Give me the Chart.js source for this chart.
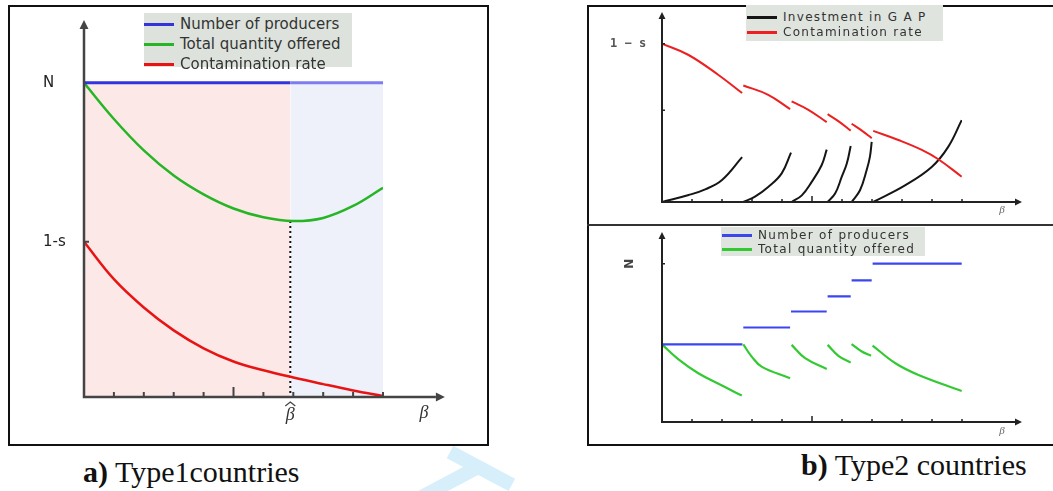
<!DOCTYPE html>
<html>
<head>
<meta charset="utf-8">
<script src="https://cdn.jsdelivr.net/npm/chart.js@4.4.1/dist/chart.umd.min.js"></script>
<style>
  body { margin: 0; background: #fff; }
  #page { position: relative; width: 1053px; height: 491px; overflow: hidden; font-family: "DejaVu Sans", sans-serif; }
  .frame { position: absolute; border: 2px solid #111; box-sizing: border-box; }
  canvas { position: absolute; }
  .legend { position: absolute; background: #dde3dc; color: #333; }
  .legend .row { position: absolute; left: 0; right: 0; white-space: nowrap; }
  .legend .swatch { position: absolute; height: 3px; }
  .legend .text { position: absolute; }
  .caption { position: absolute; font-family: "Liberation Serif", serif; font-size: 30px; line-height: 30px; color: #111; white-space: nowrap; }
  .wm { position: absolute; height: 14px; background: #d6effb; transform-origin: 0 50%; }
</style>
</head>
<body>
<div id="page">
  <div class="wm" style="left:480px; top:459px; width:88px; transform: rotate(152deg);"></div>
  <div class="wm" style="left:450px; top:445px; width:70px; transform: rotate(28deg);"></div>

  <div class="frame" style="left:8px; top:5px; width:481px; height:441px;"></div>
  <div class="frame" style="left:587px; top:5px; width:480px; height:441px;"></div>
  <div style="position:absolute; left:587px; top:224px; width:470px; height:2px; background:#333;"></div>

  <canvas id="left" width="476" height="436" style="left:10px; top:7px;"></canvas>
  <canvas id="rightTop" width="464" height="217" style="left:589px; top:7px;"></canvas>
  <canvas id="rightBottom" width="464" height="217" style="left:589px; top:227px;"></canvas>

  <div class="legend" id="legLeft" style="left:144px; top:13px; width:208px; height:54px;"></div>
  <div class="legend" id="legTop" style="left:746px; top:5px; width:197px; height:36px; background:#dfe4df;"></div>
  <div class="legend" id="legBottom" style="left:721px; top:227px; width:204px; height:29px; background:#dfe4df;"></div>

  <div class="caption" style="left:83px; top:457px;"><b>a)</b> Type1countries</div>
  <div class="caption" style="left:801px; top:450px;"><b>b)</b> Type2 countries</div>
</div>
<script>
// ---- a) Type 1 countries ----
const leftBeta = [0, 1, 2, 3, 4, 5, 6, 7, 8, 9, 10];
const leftQuantity = [10, 8.85, 7.85, 7.05, 6.45, 6.0, 5.72, 5.6, 5.7, 6.08, 6.66];
const leftContamination = [4.94, 3.75, 2.85, 2.12, 1.55, 1.13, 0.85, 0.62, 0.41, 0.21, 0.03];
const leftProducersBeta = [0, 6.9, 10];
const leftProducers = [10, 10, 10];
const betaHat = 6.9;
const quantityAtHat = 5.6;
const leftSeries = ['Number of producers', 'Total quantity offered', 'Contamination rate'];

// ---- b) Type 2 countries, top: one piece per GAP regime ----
const gapInvestment = [
    [[0, 0], [0.89, 0.44], [1.44, 0.8], [2.0, 1.39], [2.67, 2.83]],
    [[2.71, 0], [3.1, 0.34], [3.54, 0.95], [3.99, 1.81], [4.3, 3.12]],
    [[4.32, 0], [4.66, 0.42], [4.99, 1.27], [5.32, 2.32], [5.49, 3.31]],
    [[5.52, 0], [5.77, 0.53], [5.99, 1.58], [6.16, 2.43], [6.29, 3.54]],
    [[6.32, 0], [6.6, 0.74], [6.82, 2.0], [6.93, 2.85], [6.99, 3.8]],
    [[7.04, 0], [8.1, 1.05], [8.99, 2.21], [9.54, 3.48], [9.99, 5.17]]
];
const gapContamination = [
    [[0, 10], [0.87, 9.3], [1.87, 8.04], [2.67, 6.88]],
    [[2.71, 7.36], [3.54, 6.77], [4.27, 5.87]],
    [[4.32, 6.35], [4.88, 5.82], [5.49, 5.04]],
    [[5.52, 5.55], [5.9, 5.08], [6.29, 4.51]],
    [[6.32, 4.94], [6.65, 4.52], [6.99, 4.03]],
    [[7.04, 4.49], [7.9, 3.9], [8.66, 3.29], [9.21, 2.7], [9.99, 1.6]]
];
const topSeries = ['Investment in G A P', 'Contamination rate'];

// ---- b) Type 2 countries, bottom ----
const stepBounds = [[0, 2.68], [2.71, 4.27], [4.3, 5.49], [5.52, 6.29], [6.32, 6.99], [7.02, 9.99]];
const stepProducers = [4.9, 5.97, 6.98, 7.93, 8.94, 10];
const gapQuantity = [
    [[0, 4.9], [0.55, 3.95], [1.21, 3.08], [2.0, 2.3], [2.66, 1.67]],
    [[2.71, 4.9], [2.99, 4.13], [3.32, 3.5], [4.27, 2.76]],
    [[4.32, 4.87], [4.77, 4.03], [5.49, 3.35]],
    [[5.52, 4.87], [5.88, 4.18], [6.29, 3.75]],
    [[6.32, 4.92], [6.66, 4.45], [6.97, 4.18]],
    [[7.02, 4.83], [7.78, 3.71], [8.55, 2.97], [9.99, 1.96]]
];
const bottomSeries = ['Number of producers', 'Total quantity offered'];

const xTickValues = [1, 2, 3, 4, 5, 6, 7, 8, 9, 10];

// pieces -> one dataset with null gaps between them
function joinPieces(pieces) {
    const out = [];
    pieces.forEach(p => {
        p.forEach(([x, y]) => out.push({ x, y }));
        out.push({ x: p[p.length - 1][0] + 0.005, y: null });
    });
    return out;
}

function steps(bounds, levels) {
    const out = [];
    bounds.forEach(([a, b], i) => {
        out.push({ x: a, y: levels[i] }, { x: b, y: levels[i] }, { x: b + 0.005, y: null });
    });
    return out;
}

const zip = (xs, ys) => xs.map((x, i) => ({ x, y: ys[i] }));

const axisPlugin = {
    id: 'axisArrows',
    afterDatasetsDraw(chart, args, o) {
        const { ctx, scales: { x, y } } = chart;
        const x0 = x.getPixelForValue(0), y0 = y.getPixelForValue(0);
        const xe = x.getPixelForValue(o.xEnd), ye = y.getPixelForValue(o.yEnd);
        const h = o.head;
        ctx.save();
        ctx.strokeStyle = o.color;
        ctx.fillStyle = o.color;
        ctx.lineWidth = o.width;
        ctx.beginPath();
        ctx.moveTo(x0, y0 + o.width / 2); ctx.lineTo(x0, ye + h);
        ctx.moveTo(x0 - o.width / 2, y0); ctx.lineTo(xe - h, y0);
        ctx.stroke();
        ctx.beginPath();
        ctx.moveTo(x0, ye); ctx.lineTo(x0 - h * 0.5, ye + h); ctx.lineTo(x0 + h * 0.5, ye + h); ctx.closePath();
        ctx.moveTo(xe, y0); ctx.lineTo(xe - h, y0 - h * 0.5); ctx.lineTo(xe - h, y0 + h * 0.5); ctx.closePath();
        ctx.fill();

        ctx.lineWidth = o.tickWidth;
        ctx.beginPath();
        o.xTicks.forEach(v => {
            const px = x.getPixelForValue(v);
            ctx.moveTo(px, y0); ctx.lineTo(px, y0 - (v === o.tallTick ? o.tick * 2 : o.tick));
        });
        o.yTicks.forEach(v => {
            const py = y.getPixelForValue(v);
            ctx.moveTo(x0, py); ctx.lineTo(x0 + o.tick, py);
        });
        ctx.stroke();

        o.labels.forEach(l => {
            const px = l.x === undefined ? x0 + l.dx : x.getPixelForValue(l.x);
            const py = l.y === undefined ? y0 + l.dy : y.getPixelForValue(l.y);
            ctx.save();
            ctx.translate(px, py);
            if (l.rotate) ctx.rotate(l.rotate);
            ctx.font = l.font;
            ctx.fillStyle = l.color || o.color;
            ctx.textAlign = l.align || 'center';
            ctx.textBaseline = 'middle';
            ctx.fillText(l.text, 0, 0);
            if (l.hat) {
                ctx.lineWidth = 1.2;
                ctx.beginPath();
                ctx.moveTo(-5, -9); ctx.lineTo(0, -13); ctx.lineTo(5, -9);
                ctx.stroke();
            }
            ctx.restore();
        });
        ctx.restore();
    }
};

function baseOptions(padding, axes) {
    return {
        responsive: false,
        animation: false,
        devicePixelRatio: 1,
        layout: { padding },
        scales: {
            x: { type: 'linear', min: 0, max: 10, display: false },
            y: { type: 'linear', min: 0, max: 12, display: false }
        },
        elements: { point: { radius: 0 }, line: { tension: 0.4 } },
        plugins: { legend: { display: false }, tooltip: { enabled: false }, axisArrows: axes }
    };
}

// a) left panel
new Chart(document.getElementById('left'), {
    type: 'line',
    data: {
        datasets: [
            {
                label: leftSeries[0], data: zip(leftProducersBeta, leftProducers), borderWidth: 3, tension: 0,
                segment: { borderColor: c => c.p0.parsed.x >= betaHat ? '#7d7df0' : '#3434dc' }
            },
            { label: leftSeries[1], data: zip(leftBeta, leftQuantity), borderColor: '#25b525', borderWidth: 2.5 },
            { label: leftSeries[2], data: zip(leftBeta, leftContamination), borderColor: '#e81414', borderWidth: 2.5 },
            { data: [{ x: betaHat, y: quantityAtHat }, { x: betaHat, y: 0 }], borderColor: '#111', borderWidth: 2, borderDash: [2, 3], tension: 0 },
            { data: [{ x: 0, y: 10 }, { x: betaHat, y: 10 }], borderWidth: 0, fill: 'origin', backgroundColor: '#fde8e8', tension: 0 },
            { data: [{ x: betaHat, y: 10 }, { x: 10, y: 10 }], borderWidth: 0, fill: 'origin', backgroundColor: '#eef1fa', tension: 0 }
        ]
    },
    options: baseOptions({ left: 74, right: 103, top: 13, bottom: 46 }, {
        xEnd: 12.07, yEnd: 12, head: 9, color: '#444', width: 2.5, tickWidth: 2, tick: 5, tallTick: 5,
        xTicks: xTickValues, yTicks: [4.94],
        labels: [
            { text: 'N', y: 10, dx: -41, align: 'left', font: '15px "DejaVu Sans"', color: '#222' },
            { text: '1-s', y: 4.94, dx: -41, align: 'left', font: '15px "DejaVu Sans"', color: '#222' },
            { text: 'β', x: betaHat, dy: 18, font: 'italic 18px "Liberation Serif"', color: '#333', hat: true },
            { text: 'β', x: 11.37, dy: 16, font: 'italic 18px "Liberation Serif"', color: '#333' }
        ]
    }),
    plugins: [axisPlugin]
});

// b) top: investment and contamination
new Chart(document.getElementById('rightTop'), {
    type: 'line',
    data: {
        datasets: [
            { label: topSeries[1], data: joinPieces(gapContamination), borderColor: '#ec2020', borderWidth: 2 },
            { label: topSeries[0], data: joinPieces(gapInvestment), borderColor: '#151515', borderWidth: 2 }
        ]
    },
    options: baseOptions({ left: 73, right: 91, top: 5, bottom: 22 }, {
        xEnd: 12, yEnd: 12, head: 7, color: '#222', width: 2, tickWidth: 1.5, tick: 3, tallTick: 5,
        xTicks: xTickValues, yTicks: [10, 5.8],
        labels: [
            { text: '1 − s', y: 10, dx: -52, align: 'left', font: 'bold 12px "DejaVu Sans Mono"', color: '#555' },
            { text: 'β', x: 11.33, dy: 8, font: 'italic 11px "Liberation Serif"', color: '#666' }
        ]
    }),
    plugins: [axisPlugin]
});

// b) bottom: producers and quantity
new Chart(document.getElementById('rightBottom'), {
    type: 'line',
    data: {
        datasets: [
            { label: bottomSeries[0], data: steps(stepBounds, stepProducers), borderColor: '#3b46f0', borderWidth: 2.2, tension: 0 },
            { label: bottomSeries[1], data: joinPieces(gapQuantity), borderColor: '#33c933', borderWidth: 2.2 }
        ]
    },
    options: baseOptions({ left: 73, right: 91, top: 5, bottom: 22 }, {
        xEnd: 12, yEnd: 12, head: 7, color: '#222', width: 2, tickWidth: 1.5, tick: 3, tallTick: 5,
        xTicks: xTickValues, yTicks: [10],
        labels: [
            { text: 'N', y: 10, dx: -35, rotate: Math.PI / 2, font: 'bold 12px "DejaVu Sans"', color: '#444' },
            { text: 'β', x: 11.33, dy: 9, font: 'italic 11px "Liberation Serif"', color: '#666' }
        ]
    }),
    plugins: [axisPlugin]
});

// boxed legends, drawn as plain html
function buildLegend(id, labels, colors, rows, fontSize, spacing, lineX, textX) {
    const el = document.getElementById(id);
    labels.forEach((label, i) => {
        const row = document.createElement('div');
        row.className = 'row';
        row.style.top = (rows[i] - 10) + 'px';
        row.style.height = '20px';
        row.innerHTML = `<div class="swatch" style="left:${lineX}px; width:30px; top:9px; background:${colors[i]}"></div>` +
            `<div class="text" style="left:${textX}px; top:0; line-height:20px; font-size:${fontSize}px; letter-spacing:${spacing}px">${label}</div>`;
        el.appendChild(row);
    });
}
buildLegend('legLeft', leftSeries, ['#3434dc', '#25b525', '#e81414'], [11, 31, 51], 15, 0, 0, 36);
buildLegend('legTop', topSeries, ['#151515', '#ec2020'], [12, 27], 12, 1.3, 1, 37);
buildLegend('legBottom', bottomSeries, ['#3b46f0', '#33c933'], [8, 22], 12, 1.3, 1, 37);
</script>
</body>
</html>
